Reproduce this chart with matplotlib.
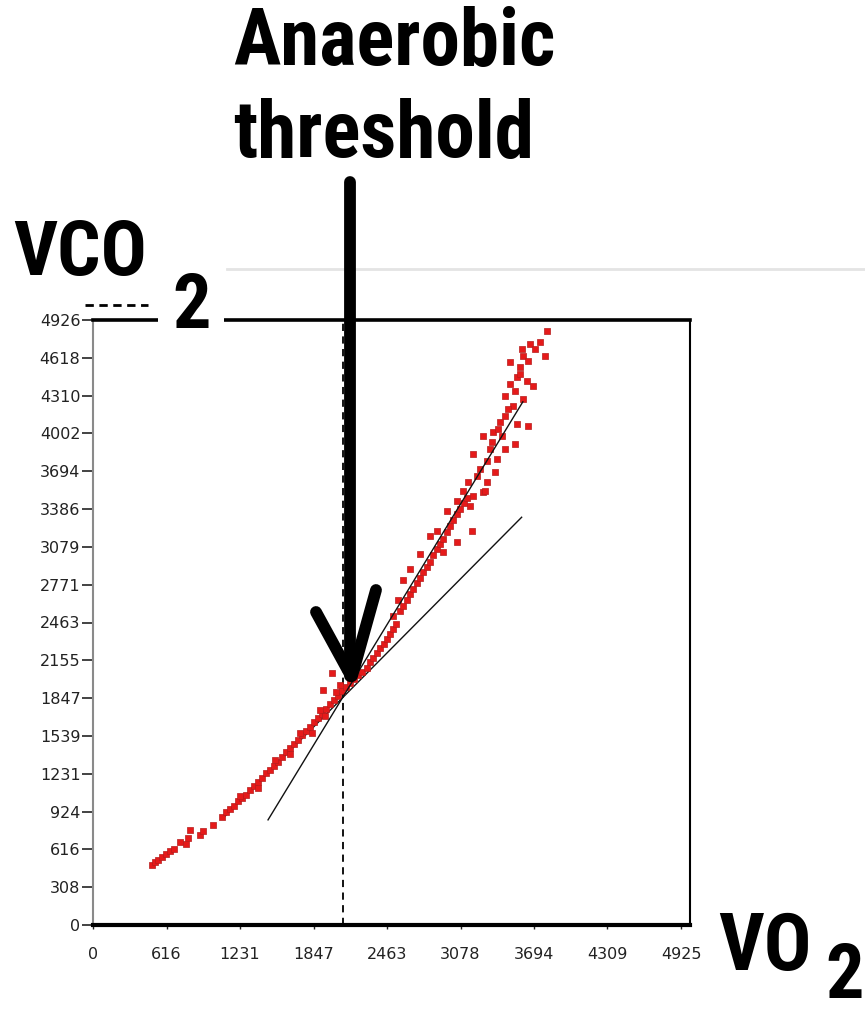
import os
import matplotlib
matplotlib.use("Agg")
import matplotlib.pyplot as plt
from matplotlib import font_manager as fm
from matplotlib.lines import Line2D

# ---------------- data ----------------
x_ticks = [0, 616, 1231, 1847, 2463, 3078, 3694, 4309, 4925]
y_ticks = [0, 308, 616, 924, 1231, 1539, 1847, 2155, 2463, 2771, 3079,
           3386, 3694, 4002, 4310, 4618, 4926]

vo2 = [494, 519, 544, 578, 611, 645, 678, 729, 779, 812, 796, 896, 921, 1005, 1081,
       1114, 1147, 1181, 1215, 1248, 1281, 1315, 1349, 1382, 1416, 1449, 1483, 1516,
       1550, 1583, 1617, 1650, 1684, 1717, 1751, 1784, 1818, 1851, 1885, 1918, 1952,
       1985, 2019, 2052, 2086, 2119, 2153, 2186, 1231, 1382, 1525, 1650, 1734, 1834,
       1901, 1943, 2002, 1927, 2069, 2035,
       2220, 2253, 2295, 2320, 2345, 2379, 2404, 2437, 2463, 2488, 2513, 2538, 2513,
       2571, 2597, 2630, 2655, 2680, 2714, 2739, 2764, 2798, 2823, 2848, 2881, 2906,
       2932, 2965, 2990, 3015, 3049, 3074, 3107, 3133,
       2739, 2823, 2881, 3174, 3049, 2932, 2965, 3267, 2655, 2597, 2555,
       3803, 3786, 3660, 3593, 3602, 3493, 3577, 3551, 3635, 3493, 3685, 3602, 3451,
       3518, 3451, 3551, 3644, 3409, 3350, 3267, 3426, 3342, 3535, 3451, 3183, 3300,
       3384, 3367, 3216, 3141, 3300, 3099, 3183, 3283, 3049, 3158,
       3241, 3325, 3392, 3476, 3535, 3577, 3644, 3702, 3744]

vco2 = [489, 514, 530, 555, 579, 603, 620, 677, 661, 775, 710, 734, 767, 816, 881,
        922, 946, 970, 1011, 1036, 1060, 1101, 1134, 1166, 1199, 1240, 1264, 1297,
        1329, 1370, 1411, 1443, 1476, 1509, 1549, 1582, 1615, 1655, 1688, 1721, 1761,
        1802, 1835, 1867, 1908, 1941, 1974, 2006, 1052, 1117, 1346, 1394, 1566, 1566,
        1753, 1704, 2055, 1916, 1957, 1900,
        2039, 2063, 2096, 2145, 2177, 2218, 2259, 2292, 2332, 2373, 2414, 2447, 2512,
        2553, 2601, 2650, 2691, 2732, 2781, 2822, 2871, 2911, 2952, 3009, 3058, 3099,
        3140, 3197, 3246, 3295, 3344, 3384, 3433, 3474,
        3017, 3164, 3205, 3205, 3115, 3034, 3368, 3523, 2895, 2813, 2650,
        4836, 4632, 4730, 4689, 4632, 4583, 4542, 4461, 4428, 4404, 4387, 4281, 4306,
        4224, 4143, 4078, 4061, 4094, 4012, 3980, 3980, 3931, 3914, 3874, 3833, 3776,
        3792, 3686, 3653, 3605, 3605, 3531, 3490, 3531, 3450, 3409,
        3711, 3874, 4037, 4200, 4347, 4485, 4591, 4689, 4746]

# fitted lines (end points)
fit_steep_x = [1466, 3600]
fit_steep_y = [856, 4260]
fit_shallow_x = [1100, 3590]
fit_shallow_y = [880, 3320]

threshold_vo2 = 2094

title_lines = ["Anaerobic", "threshold"]

# ---------------- fonts ----------------
def find_font(names):
    files = {os.path.splitext(os.path.basename(f.fname))[0].lower(): f.fname
             for f in fm.fontManager.ttflist}
    for n in names:
        if n.lower() in files:
            return files[n.lower()]
    return None

narrow = find_font(["LiberationSansNarrow-Bold", "NotoSans-CondensedBold",
                    "RobotoCondensed-Bold", "DejaVuSansCondensed-Bold"])
if narrow:
    big_fp = fm.FontProperties(fname=narrow)
    big_size = 55
    title_size = 57
else:
    big_fp = fm.FontProperties(family="Liberation Sans", weight="bold")
    big_size = 50
    title_size = 50

W, H = 865, 1015
fig = plt.figure(figsize=(W / 100, H / 100), dpi=100)
fig.patch.set_facecolor("white")


def fx(px):
    return px / W


def fy(py):
    return 1 - py / H


ax = fig.add_axes([fx(93), fy(925), (690 - 93) / W, (925 - 320) / H])
ax.set_xlim(0, 5000)
ax.set_ylim(0, 4926)

# faint presentation rule
fig.add_artist(Line2D([fx(227), fx(865)], [fy(269), fy(269)], color="#e4e4e4", lw=2.0))
# dashes left of the "2"
fig.add_artist(Line2D([fx(85), fx(148)], [fy(305), fy(305)], color="black", lw=2.0,
                      linestyle=(0, (3, 2))))

# scatter
ax.scatter(vo2, vco2, marker="s", s=22, color="#e51a1a", edgecolors="#b71c1c",
           linewidths=0.5, zorder=3)

# fit lines
ax.plot(fit_steep_x, fit_steep_y, color="#111111", lw=1.0, zorder=4)
ax.plot(fit_shallow_x, fit_shallow_y, color="#111111", lw=1.0, zorder=2)

# threshold dashed line
ax.axvline(threshold_vo2, color="black", lw=1.3, linestyle=(0, (4, 3)), zorder=2)

# spines
for s in ["top", "bottom"]:
    ax.spines[s].set_color("black")
ax.spines["bottom"].set_linewidth(3.0)
ax.spines["top"].set_linewidth(2.6)
ax.spines["right"].set_linewidth(1.5)
ax.spines["right"].set_color("black")
ax.spines["left"].set_color("#8a8a8a")
ax.spines["left"].set_linewidth(1.5)

ax.set_xticks(x_ticks)
ax.set_xticklabels([str(v) for v in x_ticks])
ax.set_yticks(y_ticks)
ax.set_yticklabels([str(v) for v in y_ticks])
ax.tick_params(axis="x", length=3, width=1, pad=13, labelsize=11.5, colors="#222222")
ax.tick_params(axis="y", length=8, width=1.2, pad=1, labelsize=11.5, colors="#222222")

# arrow (decoration)
arrow_kw = dict(color="black", lw=8.5, solid_capstyle="round", zorder=10)
fig.add_artist(Line2D([fx(350), fx(350)], [fy(182), fy(676)], **arrow_kw))
fig.add_artist(Line2D([fx(316), fx(351)], [fy(612), fy(676)], **arrow_kw))
fig.add_artist(Line2D([fx(376), fx(352)], [fy(590), fy(676)], **arrow_kw))

# texts
fig.text(fx(233), fy(65), title_lines[0], fontproperties=big_fp, fontsize=title_size,
         ha="left", va="baseline")
fig.text(fx(233), fy(157), title_lines[1], fontproperties=big_fp, fontsize=title_size,
         ha="left", va="baseline")
fig.text(fx(172), fy(328), "2", fontproperties=big_fp, fontsize=big_size,
         ha="left", va="baseline",
         bbox=dict(boxstyle="square,pad=0.18", fc="white", ec="none"))
fig.text(fx(13), fy(275), "VCO", fontproperties=big_fp, fontsize=big_size,
         ha="left", va="baseline")
fig.text(fx(718), fy(970), "VO", fontproperties=big_fp, fontsize=title_size,
         ha="left", va="baseline")
fig.text(fx(825), fy(1014), "2", fontproperties=big_fp, fontsize=big_size,
         ha="left", va="bottom")

fig.savefig("out.png", dpi=100, facecolor="white")
